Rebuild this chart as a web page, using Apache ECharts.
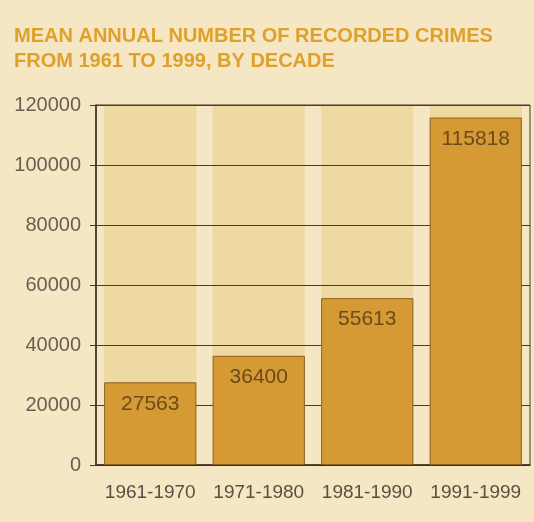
<!DOCTYPE html>
<html><head><meta charset="utf-8">
<script src="https://cdn.jsdelivr.net/npm/echarts@6/dist/echarts.min.js"></script>
<style>html,body{margin:0;padding:0;background:#f4e5bf;}#c{width:534px;height:522px;}</style>
</head><body><div id="c"></div>
<script>
const categories = ['1961-1970', '1971-1980', '1981-1990', '1991-1999'];
const values = [27563, 36400, 55613, 115818];
const yTicks = [0, 20000, 40000, 60000, 80000, 100000, 120000];
const titleText = 'MEAN ANNUAL NUMBER OF RECORDED CRIMES\nFROM 1961 TO 1999, BY DECADE';

const yMax = yTicks[yTicks.length - 1];
const bandValues = categories.map(() => yMax);

const chart = echarts.init(document.getElementById('c'));
chart.setOption({
  backgroundColor: '#f5e7c3',
  animation: false,
  title: {
    text: titleText,
    left: 9, top: 19,
    textStyle: { fontFamily: 'Liberation Sans', fontWeight: 'bold', fontSize: 20, lineHeight: 25, color: '#e0a02c' }
  },
  grid: { left: 96, right: 4, top: 105, bottom: 57, show: true, borderColor: '#4a3a28', borderWidth: 1, backgroundColor: 'transparent' },
  xAxis: {
    type: 'category', data: categories,
    axisLine: { lineStyle: { color: '#3a2e20', width: 1.5 } },
    axisTick: { show: false },
    axisLabel: { interval: 0, fontFamily: 'Liberation Sans', fontSize: 19, color: '#5a4e44', margin: 18 }
  },
  yAxis: {
    type: 'value', min: yTicks[0], max: yMax, interval: 20000,
    axisLine: { show: true, lineStyle: { color: '#3a2e20', width: 1.5 } },
    axisTick: { show: true, length: 6, lineStyle: { color: '#4a3a28' } },
    axisLabel: { fontFamily: 'Liberation Sans', fontSize: 20, color: '#6a5e54', margin: 15, formatter: v => String(v) },
    splitLine: { show: true, lineStyle: { color: '#4a3a28', width: 1 } }
  },
  series: [{
    type: 'bar', data: bandValues, barCategoryGap: '15%', z: -1, silent: true,
    itemStyle: { color: '#eed9a3' }
  }, {
    type: 'bar', data: values, barGap: '-100%', z: 3,
    itemStyle: { color: '#d69a34', borderColor: '#8c6020', borderWidth: 1 },
    label: { show: true, position: 'insideTop', distance: 11, fontFamily: 'Liberation Sans', fontSize: 21, color: '#6b4a1c' }
  }]
});
</script></body></html>
